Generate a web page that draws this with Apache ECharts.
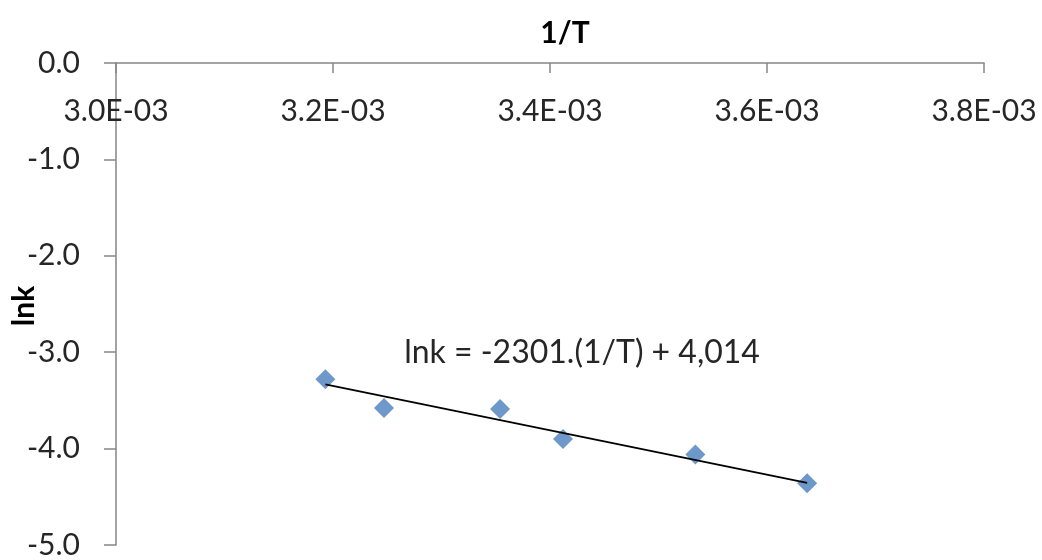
<!DOCTYPE html>
<html>
<head>
<meta charset="utf-8">
<script src="https://cdn.jsdelivr.net/npm/echarts@6/dist/echarts.min.js"></script>
<style>html,body{margin:0;padding:0;background:#fff}#c{width:1042px;height:560px}</style>
</head>
<body>
<div id="c"></div>
<script>
const invT = [0.003193, 0.003247, 0.003354, 0.003412, 0.003534, 0.003637];
const lnk = [-3.28, -3.58, -3.59, -3.90, -4.06, -4.36];
const trendSlope = -2301;
const trendIntercept = 4.014;
const trendLabel = 'lnk = -2301.(1/T) + 4,014';
const xTitle = '1/T';
const yTitle = 'lnk';

const xMinD = Math.min(...invT), xMaxD = Math.max(...invT);
const trend = [[xMinD, trendSlope * xMinD + trendIntercept], [xMaxD, trendSlope * xMaxD + trendIntercept]];
const FONT = 'Lato';

const chart = echarts.init(document.getElementById('c'));
chart.setOption({
  animation: false,
  textStyle: { fontFamily: FONT },
  grid: { left: 116, right: 58, top: 63, bottom: 8 },
  title: [
    { text: xTitle, left: 560, top: 13, textAlign: 'center',
      textStyle: { fontFamily: FONT, fontWeight: 'bold', fontSize: 30, color: '#000' } }
  ],
  graphic: [
    { type: 'text', x: 24, y: 306, rotation: Math.PI / 2,
      style: { text: yTitle, fontFamily: FONT, fontWeight: 'bold', fontSize: 30, fill: '#000', align: 'center', verticalAlign: 'middle' } },
    { type: 'text', x: 582, y: 353,
      style: { text: trendLabel, fontFamily: FONT, fontSize: 32, fill: '#262626', align: 'center', verticalAlign: 'middle' } }
  ],
  xAxis: {
    type: 'value', position: 'top', min: 0.003, max: 0.0038, interval: 0.0002,
    axisLine: { show: true, onZero: false, lineStyle: { color: '#868686', width: 1.5 } },
    axisTick: { show: true, inside: true, length: 10, lineStyle: { color: '#868686', width: 1.5 } },
    axisLabel: { inside: true, margin: 33, fontSize: 30, color: '#262626',
      formatter: v => v.toExponential(1).replace(/e([+-])(\d)$/, 'E$10$2').replace('e', 'E') },
    splitLine: { show: false }
  },
  yAxis: {
    type: 'value', min: -5, max: 0, interval: 1,
    axisLine: { show: true, onZero: false, lineStyle: { color: '#868686', width: 1.5 } },
    axisTick: { show: true, length: 12, lineStyle: { color: '#868686', width: 1.5 } },
    axisLabel: { margin: 36, fontSize: 30, color: '#262626', formatter: v => v.toFixed(1) },
    splitLine: { show: false }
  },
  series: [
    { type: 'line', data: trend, symbol: 'none', lineStyle: { color: '#000', width: 1.8 }, z: 3 },
    { type: 'scatter', data: invT.map((x, i) => [x, lnk[i]]), symbol: 'diamond', symbolSize: [20, 20],
      itemStyle: { color: '#4a7ebb' }, z: 2 }
  ]
});
</script>
</body>
</html>
